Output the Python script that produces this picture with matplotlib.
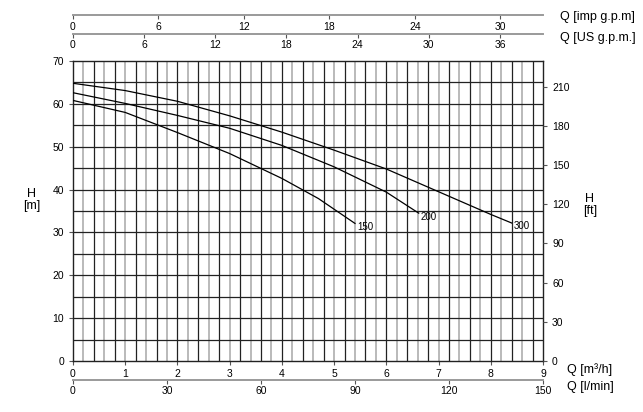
import numpy as np
import matplotlib
matplotlib.use("Agg")
import matplotlib.pyplot as plt

plt.rcParams['font.family'] = ['Liberation Sans', 'DejaVu Sans']

# Pump curves: flow Q [m3/h] vs head H [m]
q_150 = [0, 1, 2, 3, 4, 4.7, 5.4]
h_150 = [60.8, 58.0, 53.3, 48.4, 42.6, 37.9, 32.1]

q_200 = [0, 1, 2, 3, 4, 5, 6, 6.62]
h_200 = [62.6, 60.1, 57.3, 54.3, 50.3, 45.3, 39.4, 34.5]

q_300 = [0, 1, 2, 3, 4, 5, 6, 7, 8, 8.4]
h_300 = [64.8, 63.1, 60.6, 57.2, 53.4, 49.2, 44.8, 39.5, 34.2, 32.2]

curves = [(q_150, h_150, '150'), (q_200, h_200, '200'), (q_300, h_300, '300')]

q_max = 9.0
h_max = 70.0
m3h_ticks = np.arange(0, 10, 1)
lmin_ticks = np.arange(0, 151, 30)
imp_ticks = np.arange(0, 31, 6)
us_ticks = np.arange(0, 37, 6)
m_ticks = np.arange(0, 71, 10)
ft_ticks = np.arange(0, 211, 30)

W, H = 643, 412
fig = plt.figure(figsize=(W / 100, H / 100), dpi=100)

x0, x1 = 73, 543
y_top, y_bot = 61, 361
ax = fig.add_axes([x0 / W, (H - y_bot) / H, (x1 - x0) / W, (y_bot - y_top) / H])
ax.set_xlim(0, q_max)
ax.set_ylim(0, h_max)

# grid: vertical every 0.2 m3/h (alternating gray/black), horizontal every 5 m
for i, v in enumerate(np.arange(0.2, q_max - 0.01, 0.2)):
    if i % 2 == 0:
        ax.axvline(v, color='#b4b4b4', lw=1.3, zorder=1)
    else:
        ax.axvline(v, color='#222222', lw=0.9, zorder=1)
for v in np.arange(5, h_max, 5):
    ax.axhline(v, color='#222222', lw=0.9, zorder=1)

for q, h, name in curves:
    ax.plot(q, h, color='black', lw=0.9, zorder=3)
    ax.annotate(name, (q[-1], h[-1]), xytext=(1.5, -2.5), textcoords='offset points',
                fontsize=7, ha='left', va='center', zorder=4)

for s in ax.spines.values():
    s.set_color('#222222')
    s.set_linewidth(1.0)

ax.set_xticks(m3h_ticks)
ax.set_yticks(m_ticks)
ax.tick_params(axis='both', direction='out', length=3, width=0.8, labelsize=7.5,
               color='#555555')
ax.tick_params(axis='x', pad=3)

axr = ax.twinx()
axr.set_ylim(0, h_max / 0.3048)
axr.set_yticks(ft_ticks)
axr.tick_params(axis='y', direction='out', length=3, width=0.8, labelsize=7.5,
                color='#555555')
for s in axr.spines.values():
    s.set_visible(False)


def flat_axis(y_px, xmax, ticks, color):
    a = fig.add_axes([x0 / W, (H - y_px) / H, (x1 - x0) / W, 0.0001])
    a.set_xlim(0, xmax)
    a.set_yticks([])
    a.patch.set_visible(False)
    for k in ['top', 'left', 'right']:
        a.spines[k].set_visible(False)
    a.spines['bottom'].set_color(color)
    a.spines['bottom'].set_linewidth(1.4)
    a.set_xticks(ticks)
    a.tick_params(axis='x', direction='out', length=3, width=0.8, labelsize=7.5,
                  color='#555555', pad=2)
    return a


flat_axis(379.5, q_max * 1000 / 60, lmin_ticks, '#9a9a9a')
flat_axis(15, q_max * 3.6662, imp_ticks, '#9a9a9a')
flat_axis(33.5, q_max * 4.4029, us_ticks, '#9a9a9a')

fig.text(560 / W, 1 - 17 / H, 'Q [imp g.p.m]', fontsize=9, va='center', ha='left')
fig.text(560 / W, 1 - 38 / H, 'Q [US g.p.m.]', fontsize=9, va='center', ha='left')
fig.text(567 / W, 1 - 370 / H, 'Q [m³/h]', fontsize=9, va='center', ha='left')
fig.text(567 / W, 1 - 387 / H, 'Q [l/min]', fontsize=9, va='center', ha='left')
fig.text(32 / W, 1 - 200 / H, 'H\n[m]', fontsize=9, va='center', ha='center',
         linespacing=1.1)
fig.text(590 / W, 1 - 205 / H, 'H\n[ft]', fontsize=9, va='center', ha='center',
         linespacing=1.1)

fig.savefig('out.png', dpi=100)
